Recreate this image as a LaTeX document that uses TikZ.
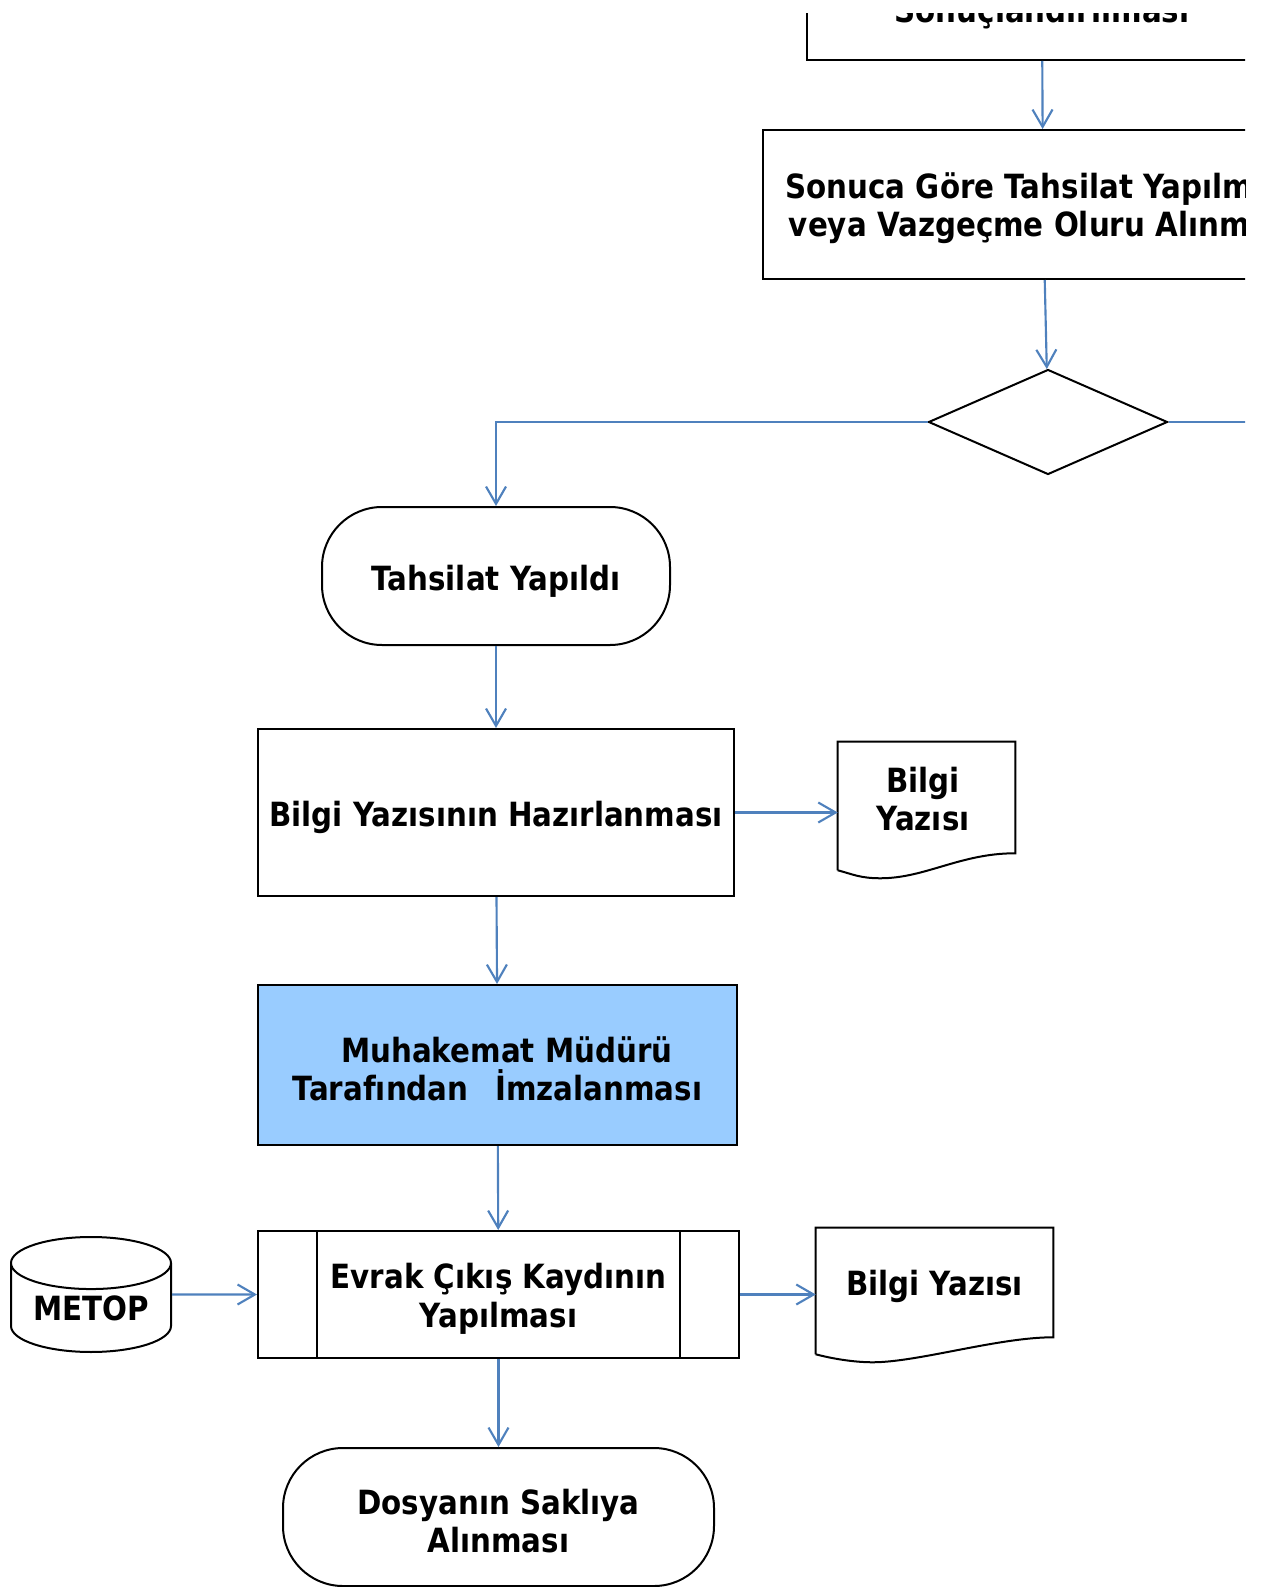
\documentclass[tikz,border=0pt]{standalone}
\usepackage{fontspec}
\setmainfont{DejaVu Sans}[FakeStretch=0.88]
\usepackage{xcolor}
\usepackage{tikz}
\usetikzlibrary{calc, shapes, arrows, arrows.meta, positioning}

\definecolor{okmavi}{HTML}{4F81BD}
\definecolor{imzamavi}{HTML}{99CCFF}

\newcommand{\belgeciz}[1]{%
\draw[line width=1.5pt] (#1.south west) -- (#1.north west) -- (#1.north east) -- ($(#1.south east)+(0,-17)$)
 .. controls +(-55,0) and +(45,0) .. ($(#1.south east)!0.76!(#1.south west)+(0,8)$)
 .. controls +(-20,0) and +(15,4) .. (#1.south west);}

\begin{document}
\begin{tikzpicture}[x=0.75pt, y=-0.75pt,
yazi/.style={font=\bfseries\fontsize{25}{29}\selectfont, align=center},
kutu/.style={draw, line width=1.5pt, yazi, inner sep=0pt},
tek/.style={text height=27pt},
cift/.style={text height=54pt},
bitis/.style={kutu, rounded corners=45pt},
ok/.style={draw=okmavi, line width=1.6pt, -{Straight Barb[length=13pt, width=15pt]}},
hat/.style={draw=okmavi, line width=1.6pt}]
\useasboundingbox (0,0) rectangle (1265,1587);
\clip (0,14) rectangle (1245,1587);

\node[kutu, tek, minimum width=352.5pt, minimum height=78pt](sonuc) at (1042,8){Sonuçlandırılması};
\node[kutu, cift, minimum width=420pt, minimum height=111.75pt](sonuca) at (1043,204.5){
Sonuca Göre Tahsilat Yapılması\\veya Vazgeçme Oluru Alınması};
\node[draw, diamond, line width=1.5pt, minimum width=179.25pt, minimum height=78.75pt, inner sep=0pt](karar) at (1048,422){};
\node[bitis, tek, minimum width=261pt, minimum height=103.5pt](tahsilat) at (496,576){Tahsilat Yapıldı};
\node[kutu, tek, minimum width=357pt, minimum height=125.25pt](hazirlik) at (496,812.5){Bilgi Yazısının Hazırlanması};
\node[minimum width=132.75pt, minimum height=96pt, inner sep=0pt](belge1) at (926.5,806){};
\node[yazi](belge1yazi) at (923,799){Bilgi\\Yazısı};
\node[kutu, cift, fill=imzamavi, minimum width=359.25pt, minimum height=120pt](imza) at (497.5,1065){
\hspace*{14pt}Muhakemat Müdürü\\Tarafından\hspace{20pt}İmzalanması};
\node[kutu, cift, minimum width=360.75pt, minimum height=95.25pt](evrak) at (498.5,1294.5){
Evrak Çıkış Kaydının\\Yapılması};
\node[draw, cylinder, shape border rotate=90, aspect=0.45, line width=1.5pt, yazi, minimum width=120pt, minimum height=86.25pt, inner sep=0pt](metop) at (91,1308){METOP};
\node[minimum width=177.75pt, minimum height=94.5pt, inner sep=0pt](belge2) at (934.5,1291){};
\node[yazi](belge2yazi) at (934.5,1286){Bilgi Yazısı};
\node[bitis, cift, minimum width=323.25pt, minimum height=103.5pt](dosya) at (498.5,1517){
Dosyanın Saklıya\\Alınması};

% belge kenarlari
\belgeciz{belge1}
\belgeciz{belge2}
\draw[line width=1.5pt] ($(evrak.north west)+(60,0)$) -- ($(evrak.south west)+(60,0)$);
\draw[line width=1.5pt] ($(evrak.north east)+(-60,0)$) -- ($(evrak.south east)+(-60,0)$);

\coordinate (sag) at (1265,422);
\path[ok](sonuc) -- (sonuca);
\path[ok](sonuca) -- (karar);
\path[ok](karar.west) -| (tahsilat.north);
\path[hat](karar.east) -- (sag);
\path[ok](tahsilat) -- (hazirlik);
\path[ok](hazirlik.east) -- (hazirlik.east -| belge1.west);
\path[ok](hazirlik) -- (imza);
\path[ok](imza) -- (evrak);
\path[ok](metop.shape center -| metop.east) -- (evrak.west);
\path[ok](evrak.east) -- (evrak.east -| belge2.west);
\path[ok](evrak) -- (dosya);
\end{tikzpicture}
\end{document}
